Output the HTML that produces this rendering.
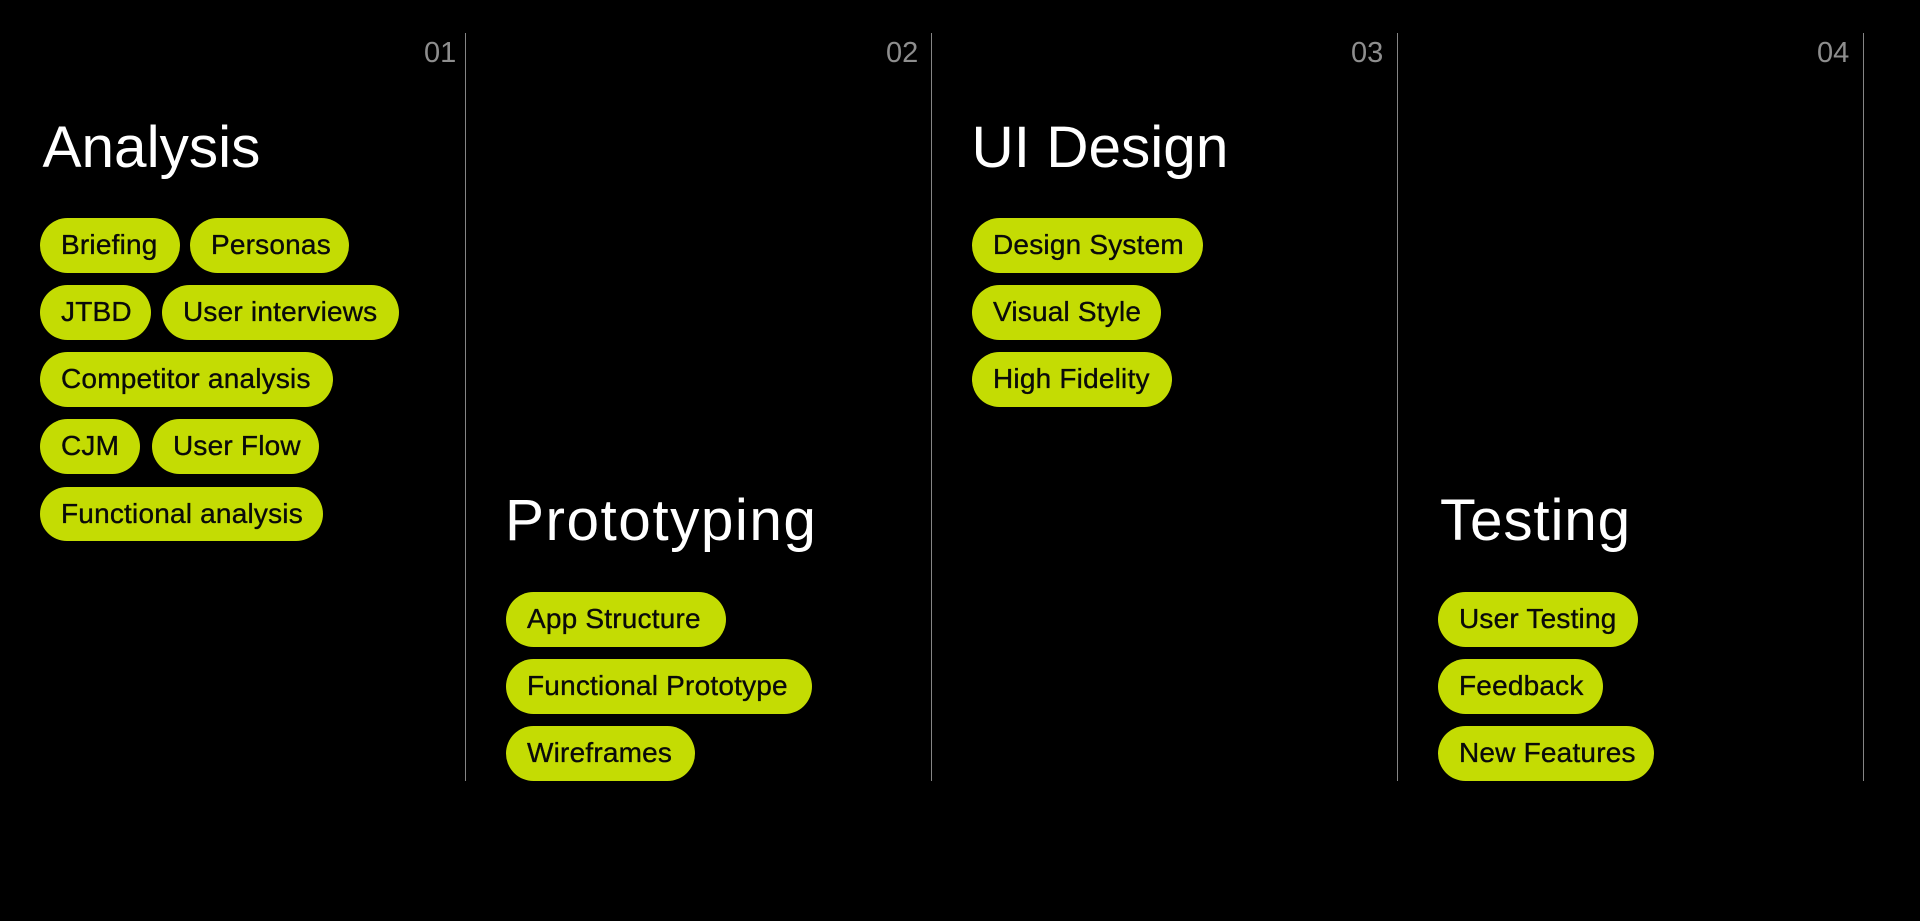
<!DOCTYPE html>
<html>
<head>
<meta charset="utf-8">
<style>
  html, body { margin:0; padding:0; }
  body { width:1920px; height:921px; background:#000; position:relative; overflow:hidden;
         font-family:"Liberation Sans", Arial, sans-serif; }
  .line { position:absolute; top:33px; width:1px; height:748px; background:#858585; }
  .num { position:absolute; top:39px; font-size:29px; line-height:29px; color:#8e8e8e; white-space:nowrap; }
  .title { position:absolute; font-size:58.5px; line-height:58px; color:#fff; white-space:nowrap; }
  .pill { position:absolute; height:54.5px; border-radius:28px; background:#c4dc03; color:#0a0a0a;
          font-size:28px; line-height:54.5px; padding-left:21px; box-sizing:border-box; white-space:nowrap;
          letter-spacing:0.2px; -webkit-text-stroke:0.35px #0a0a0a; }
</style>
</head>
<body>
  <div class="line" style="left:465px"></div>
  <div class="line" style="left:931px"></div>
  <div class="line" style="left:1397px"></div>
  <div class="line" style="left:1863px"></div>

  <div class="num" style="left:424px">01</div>
  <div class="num" style="left:886px">02</div>
  <div class="num" style="left:1351px">03</div>
  <div class="num" style="left:1817px">04</div>

  <div class="title" style="left:42.5px; top:119px">Analysis</div>
  <div class="title" style="left:505px; top:492px; letter-spacing:1.5px">Prototyping</div>
  <div class="title" style="left:971.5px; top:119px">UI Design</div>
  <div class="title" style="left:1440px; top:492px; letter-spacing:0.8px">Testing</div>

  <!-- Column 1 -->
  <div class="pill" style="left:40px; top:218px; width:140px">Briefing</div>
  <div class="pill" style="left:190px; top:218px; width:159px">Personas</div>
  <div class="pill" style="left:40px; top:285px; width:111px">JTBD</div>
  <div class="pill" style="left:162px; top:285px; width:237px">User interviews</div>
  <div class="pill" style="left:40px; top:352px; width:293px">Competitor analysis</div>
  <div class="pill" style="left:40px; top:419px; width:100px">CJM</div>
  <div class="pill" style="left:152px; top:419px; width:167px">User Flow</div>
  <div class="pill" style="left:40px; top:486.5px; width:283px">Functional analysis</div>

  <!-- Column 2 -->
  <div class="pill" style="left:506px; top:592px; width:220px">App Structure</div>
  <div class="pill" style="left:506px; top:659px; width:306px">Functional Prototype</div>
  <div class="pill" style="left:506px; top:726px; width:189px">Wireframes</div>

  <!-- Column 3 -->
  <div class="pill" style="left:972px; top:218px; width:231px">Design System</div>
  <div class="pill" style="left:972px; top:285px; width:189px">Visual Style</div>
  <div class="pill" style="left:972px; top:352px; width:200px">High Fidelity</div>

  <!-- Column 4 -->
  <div class="pill" style="left:1438px; top:592px; width:200px">User Testing</div>
  <div class="pill" style="left:1438px; top:659px; width:165px">Feedback</div>
  <div class="pill" style="left:1438px; top:726px; width:216px">New Features</div>
</body>
</html>
